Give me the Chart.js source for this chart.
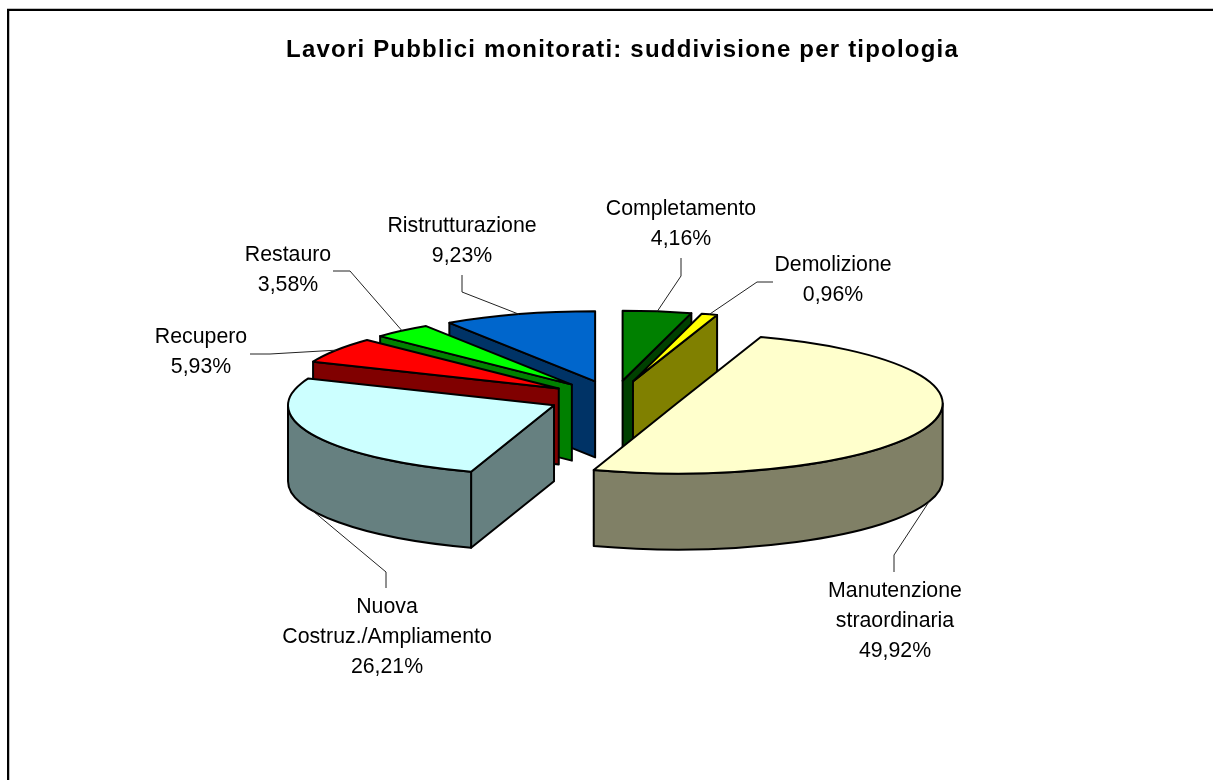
<!DOCTYPE html>
<html>
<head>
<meta charset="utf-8">
<title>Lavori Pubblici monitorati</title>
<script src="https://cdn.jsdelivr.net/npm/chart.js@4/dist/chart.umd.min.js"></script>
<style>
  html, body { margin: 0; padding: 0; background: #fff; overflow: hidden; }
  canvas { display: block; }
</style>
</head>
<body>
<canvas id="pie" width="1213" height="780"></canvas>
<script>
var chartTitle = 'Lavori Pubblici monitorati: suddivisione per tipologia';
var categories = [
  'Completamento',
  'Demolizione',
  ['Manutenzione', 'straordinaria'],
  ['Nuova', 'Costruz./Ampliamento'],
  'Recupero',
  'Restauro',
  'Ristrutturazione'
];
var values = [4.16, 0.96, 49.92, 26.21, 5.93, 3.58, 9.23];
var topColors = ['#008000', '#FFFF00', '#FFFFCC', '#CCFFFF', '#FF0000', '#00FF00', '#0066CC'];
var wallColors = ['#004000', '#808000', '#808066', '#668080', '#800000', '#008000', '#003366'];

// look of the fake 3D pie
var pieRadius = 266;
var flatten = 70 / 266;
var pieDepth = 76;
var explode = 66;
var pieShiftX = -8.5;
// back slices first, so the nearer walls cover them
var wallOrder = [6, 5, 4, 3, 0, 1, 2];

// where the text sits: centre x, y of first line, then the bent part of the leader line
var labelLayout = [
  { x: 681, y: 209, leader: [[681, 258], [681, 276]] },
  { x: 833, y: 265, leader: [[773, 282], [757, 282]] },
  { x: 895, y: 591, leader: [[894, 572], [894, 555]] },
  { x: 387, y: 607, leader: [[386, 588], [386, 572]] },
  { x: 201, y: 337, leader: [[250, 354], [270, 354]] },
  { x: 288, y: 255, leader: [[333, 271], [350, 271]] },
  { x: 462, y: 226, leader: [[462, 275], [462, 292]] }
];

function percentText(v) {
  return v.toFixed(2).replace('.', ',') + '%';
}

function screenY(chart, y) {
  var mid = (chart.chartArea.top + chart.chartArea.bottom) / 2;
  return mid + (y - mid) * flatten;
}

function slicePath(ctx, arc, cy, from, to) {
  ctx.ellipse(arc.x, cy, arc.outerRadius, arc.outerRadius * flatten, 0, from, to);
}

function drawWall(ctx, color, points) {
  ctx.beginPath();
  points.forEach(function (p, i) {
    if (i === 0) ctx.moveTo(p[0], p[1]); else ctx.lineTo(p[0], p[1]);
  });
  ctx.closePath();
  ctx.fillStyle = color;
  ctx.fill();
  ctx.stroke();
}

var pie3d = {
  id: 'pie3d',
  beforeDraw: function (chart) {
    // frame of the original sheet, only top and left are in the shot
    var ctx = chart.ctx;
    ctx.save();
    ctx.fillStyle = '#c0c0c0';
    ctx.fillRect(7, 8, 1206, 1);
    ctx.fillRect(9, 8, 1, 772);
    ctx.fillStyle = '#000';
    ctx.fillRect(7, 9, 1206, 2);
    ctx.fillRect(7, 9, 2, 771);
    ctx.restore();
    // title is spaced out a bit in the original
    ctx.letterSpacing = '1.2px';
  },
  afterDatasetsUpdate: function (chart) {
    chart.getDatasetMeta(0).data.forEach(function (arc) {
      var half = (arc.startAngle + arc.endAngle) / 2;
      arc.x += Math.cos(half) * explode + pieShiftX;
      arc.y += Math.sin(half) * explode;
    });
  },
  beforeDatasetDraw: function (chart) {
    var ctx = chart.ctx;
    var arcs = chart.getDatasetMeta(0).data;
    ctx.letterSpacing = '0px';

    ctx.save();
    ctx.lineWidth = 2;
    ctx.lineJoin = 'round';
    ctx.strokeStyle = '#000';
    wallOrder.forEach(function (i) {
      var arc = arcs[i];
      var cy = screenY(chart, arc.y);
      var rx = arc.outerRadius;
      var ry = rx * flatten;
      var a = arc.startAngle;
      var b = arc.endAngle;

      // straight cuts, only when they face the viewer
      if (Math.cos(a) < -0.001) {
        drawWall(ctx, wallColors[i], [
          [arc.x, cy], [arc.x + Math.cos(a) * rx, cy + Math.sin(a) * ry],
          [arc.x + Math.cos(a) * rx, cy + Math.sin(a) * ry + pieDepth], [arc.x, cy + pieDepth]
        ]);
      }
      if (Math.cos(b) > 0.001) {
        drawWall(ctx, wallColors[i], [
          [arc.x, cy], [arc.x + Math.cos(b) * rx, cy + Math.sin(b) * ry],
          [arc.x + Math.cos(b) * rx, cy + Math.sin(b) * ry + pieDepth], [arc.x, cy + pieDepth]
        ]);
      }

      // round wall on the near half
      var lo = Math.max(a, 0);
      var hi = Math.min(b, Math.PI);
      if (hi > lo) {
        ctx.beginPath();
        slicePath(ctx, arc, cy, lo, hi);
        ctx.ellipse(arc.x, cy + pieDepth, rx, ry, 0, hi, lo, true);
        ctx.closePath();
        ctx.fillStyle = wallColors[i];
        ctx.fill();
        ctx.stroke();
      }
    });
    ctx.restore();

    // the library paints the top faces squashed into an ellipse
    var mid = (chart.chartArea.top + chart.chartArea.bottom) / 2;
    ctx.save();
    ctx.translate(0, mid * (1 - flatten));
    ctx.scale(1, flatten);
  },
  afterDatasetDraw: function (chart) {
    var ctx = chart.ctx;
    ctx.restore();

    var arcs = chart.getDatasetMeta(0).data;
    ctx.save();
    ctx.lineWidth = 2;
    ctx.lineJoin = 'round';
    ctx.strokeStyle = '#000';
    arcs.forEach(function (arc) {
      var cy = screenY(chart, arc.y);
      ctx.beginPath();
      ctx.moveTo(arc.x, cy);
      slicePath(ctx, arc, cy, arc.startAngle, arc.endAngle);
      ctx.closePath();
      ctx.stroke();
    });
    ctx.restore();
  },
  afterDraw: function (chart) {
    var ctx = chart.ctx;
    var arcs = chart.getDatasetMeta(0).data;
    ctx.save();
    ctx.font = '21.3px "Liberation Sans", Arial, sans-serif';
    ctx.textAlign = 'center';
    ctx.textBaseline = 'middle';
    categories.forEach(function (cat, i) {
      var arc = arcs[i];
      var half = (arc.startAngle + arc.endAngle) / 2;
      var layout = labelLayout[i];

      // leader line ends on the middle of the slice rim
      var endX = arc.x + Math.cos(half) * arc.outerRadius;
      var endY = screenY(chart, arc.y) + Math.sin(half) * arc.outerRadius * flatten;
      if (Math.sin(half) > 0) endY += pieDepth;
      ctx.beginPath();
      ctx.strokeStyle = '#222';
      ctx.lineWidth = 1;
      ctx.moveTo(layout.leader[0][0], layout.leader[0][1]);
      ctx.lineTo(layout.leader[1][0], layout.leader[1][1]);
      ctx.lineTo(endX, endY);
      ctx.stroke();

      var lines = [].concat(cat, percentText(values[i]));
      ctx.fillStyle = '#000';
      lines.forEach(function (line, n) {
        ctx.fillText(line, layout.x, layout.y + n * 30);
      });
    });
    ctx.restore();
  }
};

new Chart(document.getElementById('pie').getContext('2d'), {
  type: 'pie',
  data: {
    labels: categories,
    datasets: [{
      data: values,
      backgroundColor: topColors,
      borderWidth: 0
    }]
  },
  options: {
    responsive: false,
    animation: false,
    events: [],
    radius: pieRadius,
    layout: { padding: { left: 32, bottom: 48.8 } },
    plugins: {
      legend: { display: false },
      tooltip: { enabled: false },
      title: {
        display: true,
        text: chartTitle,
        color: '#000',
        font: { family: '"Liberation Sans", Arial, sans-serif', size: 24, weight: 'bold' },
        padding: { top: 36, bottom: 0 }
      }
    }
  },
  plugins: [pie3d]
});
</script>
</body>
</html>
